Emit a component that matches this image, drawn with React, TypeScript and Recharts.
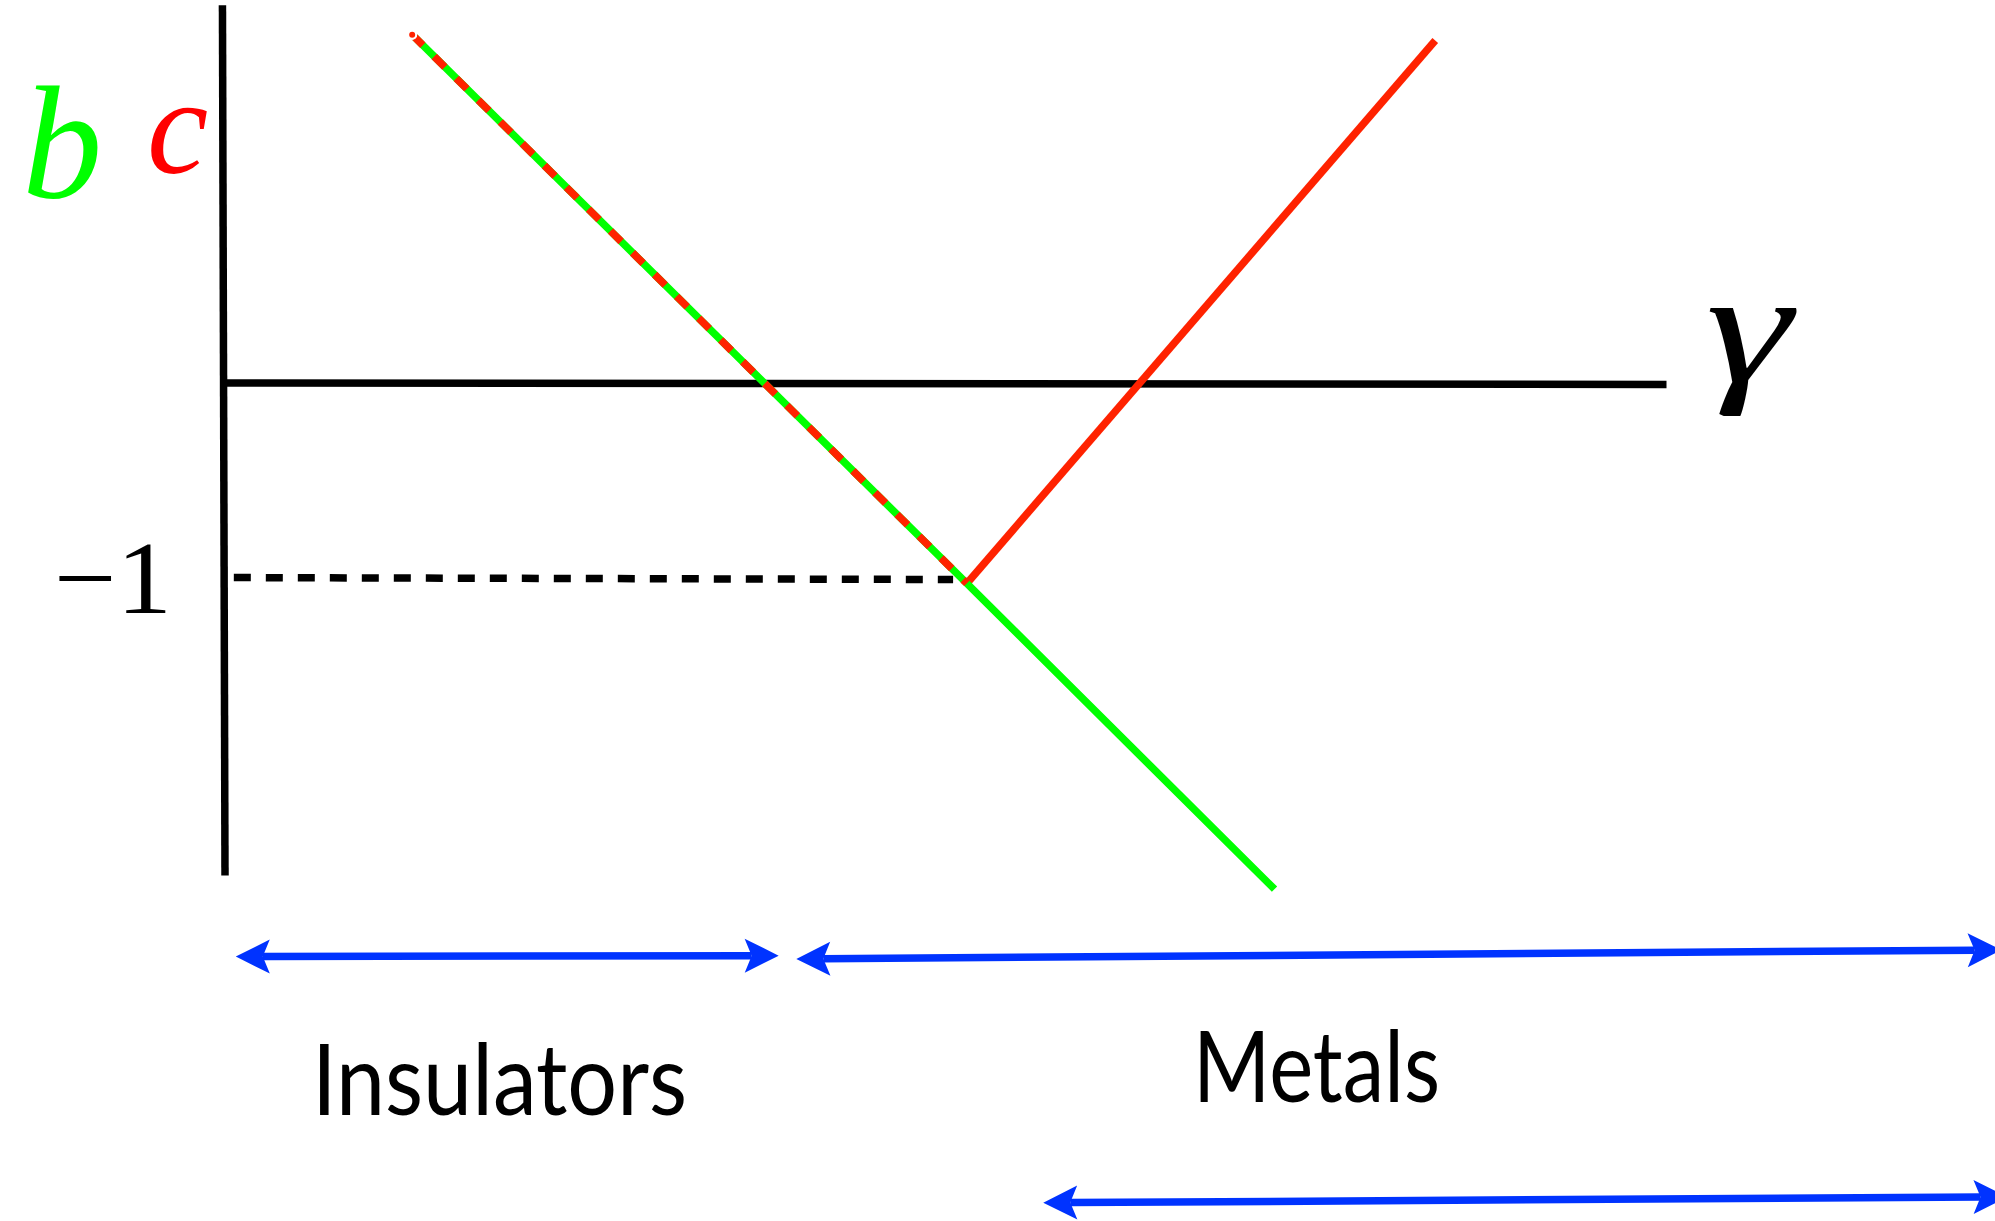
import React from 'react';
import { ComposedChart, XAxis, YAxis, Line, ReferenceLine, ReferenceDot } from 'recharts';

// plot window, in gamma / b,c units (one unit = 196 px both ways)
const X_MIN = -1.143;
const X_MAX = 9.036;
const Y_MIN = -4.273;
const Y_MAX = 1.957;

// b(gamma): straight line through the kink at -1
const bGamma = [0.96, 3.79, 5.36];
const bValues = [1.78, -1.02, -2.58];

// c(gamma): equals b until the kink, then rises again
const cGamma = [0.96, 3.79, 6.18];
const cValues = [1.78, -1.02, 1.75];

// axes
const vAxisGamma = [-0.008, 0.005];
const vAxisValues = [1.93, -2.51];
const hAxisGamma = [0, 7.36];
const hAxisValues = [0.003, -0.005];

// dotted guide at -1
const guideGamma = [0.05, 3.72];
const guideValues = [-0.99, -1.0];

// blue range arrows
const arrowGammaFrom = [0.06, 2.92, 4.18];
const arrowGammaTo = [2.83, 9.07, 9.1];
const arrowValueFrom = [-2.924, -2.936, -4.18];
const arrowValueTo = [-2.919, -2.89, -4.15];

// labels
const labelText = ['b', 'c', 'γ', '−1', 'Insulators', 'Metals'];
const labelGamma = [-1.03, -0.393, 7.56, -0.265, 0.449, 4.944];
const labelValue = [0.952, 1.074, 0.01, -1.171, -3.732, -3.666];

const GREEN = '#00ff00';
const RED = '#ff2200';
const BLUE = '#0033ff';

const toPoints = (xs: number[], ys: number[]) => xs.map((x, i) => ({ x, y: ys[i] }));

const bPoints = toPoints(bGamma, bValues);
const cShared = toPoints(cGamma.slice(0, 2), cValues.slice(0, 2));
const cRising = toPoints(cGamma.slice(1), cValues.slice(1));

const labelStyles = [
  { fill: GREEN, fontFamily: '"Liberation Serif", serif', fontStyle: 'italic', fontSize: 160, anchor: 'start' },
  { fill: '#ff0000', fontFamily: '"Liberation Serif", serif', fontStyle: 'italic', fontSize: 138, anchor: 'start' },
  { fill: '#000', fontFamily: '"Liberation Serif", serif', fontStyle: 'italic', fontSize: 162, anchor: 'start', textLength: 86 },
  { fill: '#000', fontFamily: '"Liberation Serif", serif', fontStyle: 'normal', fontSize: 104, anchor: 'end', textLength: 118 },
  { fill: '#000', fontFamily: 'Lato, sans-serif', fontStyle: 'normal', fontSize: 98, anchor: 'start', textLength: 375 },
  { fill: '#000', fontFamily: 'Lato, sans-serif', fontStyle: 'normal', fontSize: 98, anchor: 'start', textLength: 247 },
];

const DoubleArrow = (props: any) => {
  const { x1, y1, x2, y2 } = props;
  const dx = x2 - x1;
  const dy = y2 - y1;
  const len = Math.hypot(dx, dy) || 1;
  const ux = dx / len;
  const uy = dy / len;
  const nx = -uy;
  const ny = ux;
  const L = 34;
  const W = 17;
  const N = 27;
  const head = (tx: number, ty: number, s: number) => {
    const pts = [
      [tx, ty],
      [tx + s * ux * L + nx * W, ty + s * uy * L + ny * W],
      [tx + s * ux * N, ty + s * uy * N],
      [tx + s * ux * L - nx * W, ty + s * uy * L - ny * W],
    ];
    return pts.map((p) => p.join(',')).join(' ');
  };
  return (
    <g>
      <line
        x1={x1 + ux * N}
        y1={y1 + uy * N}
        x2={x2 - ux * N}
        y2={y2 - uy * N}
        stroke={BLUE}
        strokeWidth={7.5}
      />
      <polygon points={head(x1, y1, 1)} fill={BLUE} />
      <polygon points={head(x2, y2, -1)} fill={BLUE} />
    </g>
  );
};

export default function App() {
  return (
    <div style={{ position: 'absolute', left: 0, top: 0, width: 1995, height: 1221, background: '#fff' }}>
      <ComposedChart width={1995} height={1221} margin={{ top: 0, right: 0, bottom: 0, left: 0 }}>
        <XAxis type="number" dataKey="x" domain={[X_MIN, X_MAX]} allowDataOverflow hide />
        <YAxis type="number" dataKey="y" domain={[Y_MIN, Y_MAX]} allowDataOverflow hide />

        <ReferenceLine
          segment={toPoints(vAxisGamma, vAxisValues)}
          stroke="#000"
          strokeWidth={7.5}
          ifOverflow="visible"
        />
        <ReferenceLine
          segment={toPoints(hAxisGamma, hAxisValues)}
          stroke="#000"
          strokeWidth={7.5}
          ifOverflow="visible"
        />
        <ReferenceLine
          segment={toPoints(guideGamma, guideValues)}
          stroke="#000"
          strokeWidth={7.5}
          strokeDasharray="17 15"
          ifOverflow="visible"
        />

        <Line data={cRising} dataKey="y" type="linear" stroke={RED} strokeWidth={7.5} dot={false} isAnimationActive={false} />
        <Line data={bPoints} dataKey="y" type="linear" stroke={GREEN} strokeWidth={7.5} dot={false} isAnimationActive={false} />
        <Line
          data={cShared}
          dataKey="y"
          type="linear"
          stroke={RED}
          strokeWidth={7.5}
          strokeDasharray="15 16"
          dot={false}
          isAnimationActive={false}
        />

        {arrowGammaFrom.map((g, i) => (
          <ReferenceLine
            key={`arrow-${i}`}
            segment={[
              { x: g, y: arrowValueFrom[i] },
              { x: arrowGammaTo[i], y: arrowValueTo[i] },
            ]}
            ifOverflow="visible"
            shape={DoubleArrow}
          />
        ))}

        {labelText.map((t, i) => {
          const st = labelStyles[i];
          return (
            <ReferenceDot
              key={`label-${i}`}
              x={labelGamma[i]}
              y={labelValue[i]}
              r={0}
              ifOverflow="visible"
              shape={(p: any) => (
                <text
                  x={p.cx}
                  y={p.cy}
                  fill={st.fill}
                  fontFamily={st.fontFamily}
                  fontStyle={st.fontStyle}
                  fontSize={st.fontSize}
                  textAnchor={st.anchor}
                  {...(st.textLength ? { textLength: st.textLength, lengthAdjust: 'spacingAndGlyphs' } : {})}
                >
                  {t}
                </text>
              )}
            />
          );
        })}
      </ComposedChart>
    </div>
  );
}
